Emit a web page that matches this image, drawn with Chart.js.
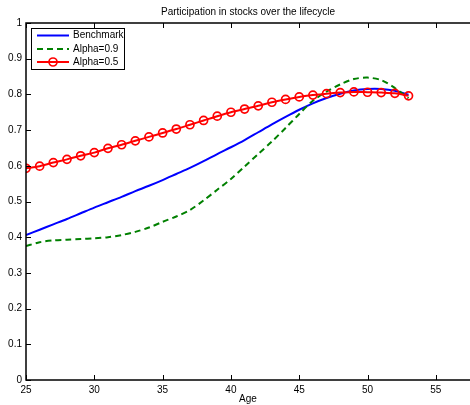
<!DOCTYPE html>
<html>
<head>
<meta charset="utf-8">
<script src="https://cdn.jsdelivr.net/npm/chart.js@4/dist/chart.umd.min.js"></script>
<style>
  body { margin: 0; background: #fff; }
  #wrap { width: 470px; height: 405px; position: relative; }
</style>
</head>
<body>
<div id="wrap"><canvas id="chart"></canvas></div>
<script>
// ages 25..53, one point per year
const ages = [25, 26, 27, 28, 29, 30, 31, 32, 33, 34, 35, 36, 37, 38, 39,
  40, 41, 42, 43, 44, 45, 46, 47, 48, 49, 50, 51, 52, 53];

const benchmark = [0.406, 0.421, 0.436, 0.451, 0.467, 0.483, 0.498, 0.513, 0.529, 0.544,
  0.560, 0.577, 0.594, 0.613, 0.633, 0.652, 0.672, 0.694, 0.716, 0.737,
  0.757, 0.775, 0.790, 0.802, 0.811, 0.815, 0.815, 0.810, 0.799];

const alpha09 = [0.375, 0.386, 0.391, 0.393, 0.395, 0.397, 0.400, 0.406, 0.415, 0.427,
  0.443, 0.458, 0.476, 0.503, 0.533, 0.563, 0.598, 0.633, 0.668, 0.706,
  0.745, 0.782, 0.808, 0.828, 0.843, 0.847, 0.840, 0.818, 0.789];

const alpha05 = [0.593, 0.599, 0.609, 0.618, 0.628, 0.637, 0.649, 0.659, 0.670, 0.681,
  0.692, 0.703, 0.715, 0.727, 0.739, 0.750, 0.759, 0.768, 0.778, 0.786,
  0.793, 0.798, 0.802, 0.805, 0.807, 0.806, 0.805, 0.803, 0.796];

const xTicks = [25, 30, 35, 40, 45, 50, 55];
const yTicks = [0, 0.1, 0.2, 0.3, 0.4, 0.5, 0.6, 0.7, 0.8, 0.9, 1];
const yLabels = ['0', '0.1', '0.2', '0.3', '0.4', '0.5', '0.6', '0.7', '0.8', '0.9', '1'];

const FONT = 'Liberation Sans, Arial, Helvetica, sans-serif';

function pts(vals) {
  return ages.map(function(a, i) { return { x: a, y: vals[i] }; });
}

// matlab style frame: box on top/left/bottom, ticks pointing inward, title
const frame = {
  id: 'frame',
  afterDatasetsDraw: function(chart) {
    const ctx = chart.ctx;
    const area = chart.chartArea;
    const xs = chart.scales.x;
    const ys = chart.scales.y;
    ctx.save();
    ctx.strokeStyle = '#000';
    ctx.lineWidth = 1;
    xTicks.forEach(function(v) {
      const px = Math.round(xs.getPixelForValue(v)) + 0.5;
      ctx.beginPath();
      ctx.moveTo(px, area.bottom); ctx.lineTo(px, area.bottom - 5);
      ctx.moveTo(px, area.top); ctx.lineTo(px, area.top + 5);
      ctx.stroke();
    });
    yTicks.forEach(function(v) {
      const py = Math.round(ys.getPixelForValue(v)) + 0.5;
      ctx.beginPath();
      ctx.moveTo(area.left, py); ctx.lineTo(area.left + 5, py);
      ctx.stroke();
    });
    ctx.lineWidth = 1.5;
    ctx.beginPath();
    ctx.moveTo(area.right, area.top);
    ctx.lineTo(area.left, area.top);
    ctx.lineTo(area.left, area.bottom);
    ctx.lineTo(area.right, area.bottom);
    ctx.stroke();

    // title
    ctx.fillStyle = '#000';
    ctx.font = '10px ' + FONT;
    ctx.textAlign = 'center';
    ctx.textBaseline = 'middle';
    ctx.fillText('Participation in stocks over the lifecycle', (area.left + area.right) / 2, 12);

    // legend box
    const bx = 31, by = 28, bw = 93, bh = 41;
    ctx.fillStyle = '#fff';
    ctx.fillRect(bx, by, bw, bh);
    ctx.lineWidth = 1;
    ctx.strokeRect(bx + 0.5, by + 0.5, bw, bh);
    const rows = [35.5, 49, 62];
    chart.data.datasets.forEach(function(ds, i) {
      const y = rows[i];
      ctx.strokeStyle = ds.borderColor;
      ctx.lineWidth = ds.borderWidth;
      ctx.setLineDash(ds.borderDash || []);
      ctx.beginPath();
      ctx.moveTo(37, y); ctx.lineTo(69, y);
      ctx.stroke();
      ctx.setLineDash([]);
      if (ds.pointRadius > 0) {
        ctx.lineWidth = ds.pointBorderWidth;
        ctx.beginPath();
        ctx.arc(53, y, ds.pointRadius, 0, Math.PI * 2);
        ctx.stroke();
      }
      ctx.fillStyle = '#000';
      ctx.textAlign = 'left';
      ctx.fillText(ds.label, 73, y);
    });
    ctx.restore();
  }
};

new Chart(document.getElementById('chart'), {
  type: 'line',
  data: {
    datasets: [
      {
        label: 'Benchmark',
        data: pts(benchmark),
        borderColor: '#0000ff',
        borderWidth: 2,
        pointRadius: 0,
        tension: 0.3,
        order: 3
      },
      {
        label: 'Alpha=0.9',
        data: pts(alpha09),
        borderColor: '#008000',
        borderWidth: 2,
        borderDash: [6, 4],
        pointRadius: 0,
        tension: 0.3,
        order: 2
      },
      {
        label: 'Alpha=0.5',
        data: pts(alpha05),
        borderColor: '#ff0000',
        borderWidth: 2,
        pointRadius: 4,
        pointBorderWidth: 1.7,
        pointBackgroundColor: 'rgba(0,0,0,0)',
        pointBorderColor: '#ff0000',
        tension: 0.3,
        order: 1
      }
    ]
  },
  options: {
    responsive: true,
    maintainAspectRatio: false,
    animation: false,
    layout: { autoPadding: false, padding: { top: 23, right: 0, bottom: 0, left: 0 } },
    plugins: {
      legend: { display: false },
      title: { display: false },
      tooltip: { enabled: false }
    },
    scales: {
      x: {
        type: 'linear',
        min: 25,
        max: 57.5,
        afterBuildTicks: function(scale) {
          scale.ticks = xTicks.map(function(v) { return { value: v }; });
        },
        afterFit: function(scale) {
          scale.height = 25;
          scale.paddingLeft = 0;
          scale.paddingRight = 0;
        },
        grid: { display: false, drawTicks: false },
        border: { display: false },
        ticks: {
          color: '#000',
          font: { family: FONT, size: 10 },
          padding: 4,
          maxRotation: 0,
          autoSkip: false
        },
        title: {
          display: true,
          text: 'Age',
          color: '#000',
          font: { family: FONT, size: 10 },
          padding: { top: 2, bottom: 0 }
        }
      },
      y: {
        min: 0,
        max: 1,
        afterBuildTicks: function(scale) {
          scale.ticks = yTicks.map(function(v) { return { value: v }; });
        },
        afterFit: function(scale) { scale.width = 26; },
        grid: { display: false, drawTicks: false },
        border: { display: false },
        ticks: {
          color: '#000',
          font: { family: FONT, size: 10 },
          padding: 4,
          autoSkip: false,
          callback: function(v, i) { return yLabels[i]; }
        }
      }
    }
  },
  plugins: [frame]
});
</script>
</body>
</html>
